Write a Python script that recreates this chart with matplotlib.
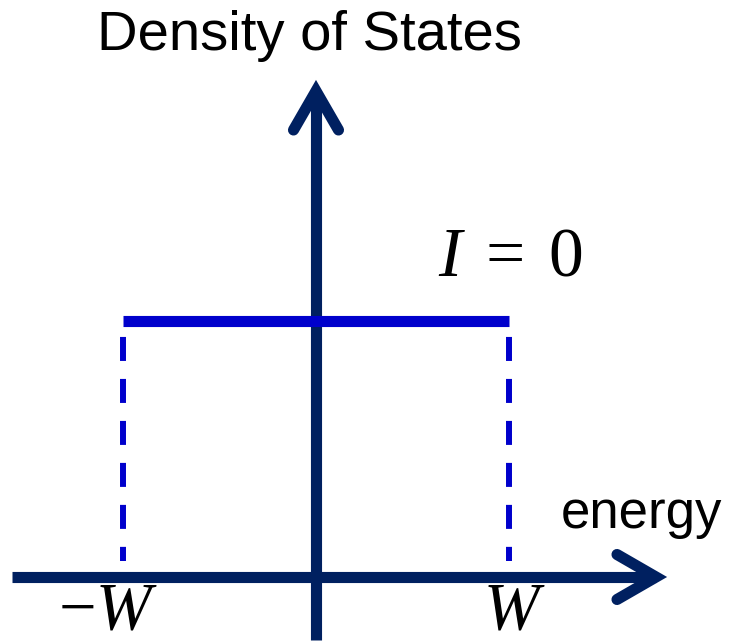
import matplotlib
matplotlib.use('Agg')
import matplotlib.pyplot as plt

# ---- data ----
W = 1.0
band_edges = [-W, W]          # flat band from -W to W
dos_level = 1.0               # constant density of states
tick_positions = [-W, W]
tick_labels = [r'$-W$', r'$W$']
y_label = 'Density of States'
x_label = 'energy'
curve_label = r'$I\;=\;0$'

plt.rcParams['mathtext.fontset'] = 'custom'
plt.rcParams['mathtext.rm'] = 'Liberation Serif'
plt.rcParams['mathtext.it'] = 'Liberation Serif:italic'

# layout helpers (pixel -> data), origin of axes at pixel (316, 577)
SX, SY, X0, Y0 = 193.0, 256.0, 316.0, 577.0
def px(x):
    return (x - X0) / SX
def py(y):
    return (Y0 - y) / SY

fig = plt.figure(figsize=(7.37, 6.43), dpi=100)
ax = fig.add_axes([0, 0, 1, 1])
ax.set_xlim(px(0), px(737))
ax.set_ylim(py(643), py(0))
ax.axis('off')

navy = '#002060'
blue = '#0000CC'
axis_lw = 8.0

# axis shafts
ax.plot([px(12), px(656)], [0, 0], color=navy, lw=axis_lw, solid_capstyle='butt')
ax.plot([0, 0], [py(640), py(91)], color=navy, lw=axis_lw, solid_capstyle='butt')
# arrow heads (chevrons)
ax.plot([px(293.5), px(316), px(338.5)], [py(130), py(91), py(130)], color=navy,
        lw=axis_lw, solid_joinstyle='miter', solid_capstyle='round')
ax.plot([px(617), px(656), px(617)], [py(554.5), py(577), py(599.5)], color=navy,
        lw=axis_lw, solid_joinstyle='miter', solid_capstyle='round')

# DOS flat line
ax.plot(band_edges, [dos_level, dos_level], color=blue, lw=8.0, solid_capstyle='butt', zorder=3)
# dashed band edges
for e in band_edges:
    ax.plot([e, e], [dos_level, py(561)], color=blue, lw=4.3,
            linestyle=(4.36, (4.02, 3.01)), dash_capstyle='butt', zorder=2)

# labels
ax.text(px(309), py(50), y_label, ha='center', va='baseline',
        fontsize=40.5, family='Liberation Sans')
ax.text(px(561), py(528), x_label, ha='left', va='baseline',
        fontsize=38, family='Liberation Sans')
ax.text(px(510), py(275), curve_label, ha='center', va='baseline', fontsize=50)
label_dx = [-15, 5]
for pos, lab, dx in zip(tick_positions, tick_labels, label_dx):
    ax.text(pos + dx / SX, py(642.5), lab, ha='center', va='bottom', fontsize=48)

fig.savefig('out.png', dpi=100)
